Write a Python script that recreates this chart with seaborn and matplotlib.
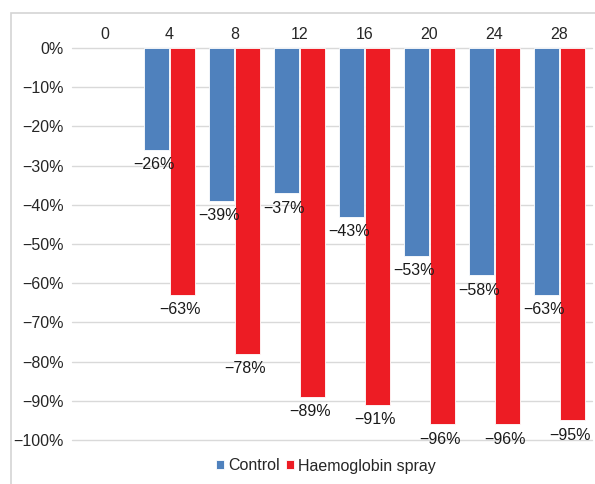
import matplotlib
matplotlib.use("Agg")
import matplotlib.pyplot as plt
from matplotlib.patches import Rectangle
import numpy as np
import pandas as pd
import seaborn as sns

days = ["0", "4", "8", "12", "16", "20", "24", "28"]
control = [np.nan, -26, -39, -37, -43, -53, -58, -63]
spray = [np.nan, -63, -78, -89, -91, -96, -96, -95]
series = ["Control", "Haemoglobin spray"]
colors = ["#4F81BD", "#ED1C24"]
yticks = list(range(0, -101, -10))

sns.set_theme(style="white")
plt.rcParams["font.family"] = ["Liberation Sans", "DejaVu Sans"]

df = pd.DataFrame({
    "day": days * 2,
    "value": control + spray,
    "group": [series[0]] * len(days) + [series[1]] * len(days),
})

fig = plt.figure(figsize=(5.95, 4.84), dpi=100)
ax = fig.add_axes([72 / 595, 1 - 440 / 484, (592 - 72) / 595, (440 - 48) / 484])

sns.barplot(data=df, x="day", y="value", hue="group", order=days,
            hue_order=series, palette=colors, saturation=1, width=0.82, gap=0.06,
            edgecolor="#ffffff", linewidth=0.6, ax=ax, legend=True)

ax.set_ylim(-100, 0)
ax.set_xlim(-0.5, len(days) - 0.5)
ax.set_yticks(yticks)
ax.set_yticklabels([f"\u2212{abs(v)}%" if v else "0%" for v in yticks], fontsize=11.5)
ax.xaxis.tick_top()
ax.tick_params(axis="x", length=0, pad=4, labelsize=11.5)
ax.tick_params(axis="y", length=0, pad=6)
ax.set_xlabel("")
ax.set_ylabel("")
for s in ax.spines.values():
    s.set_visible(False)
ax.yaxis.grid(True, color="#d9d9d9", linewidth=1)
for gl in ax.get_ygridlines():
    gl.set_clip_on(False)
ax.set_axisbelow(True)

for cont in ax.containers:
    for bar in cont:
        h = bar.get_height()
        if np.isnan(h) or h == 0:
            continue
        ax.annotate(f"\u2212{abs(h):.0f}%", (bar.get_x() + bar.get_width() / 2 - 0.04, h),
                    xytext=(0, -15), textcoords="offset pixels",
                    ha="center", va="center", fontsize=11.5, color="#1a1a1a",
                    annotation_clip=False)

leg = ax.legend(loc="center", bbox_to_anchor=(326 / 595, 1 - 466 / 484),
                bbox_transform=fig.transFigure, ncol=2, frameon=False,
                fontsize=11.5, handlelength=0.5, handleheight=0.5,
                handletextpad=0.25, columnspacing=0.4)

fig.patches.append(Rectangle((11 / 595, -0.1), 1.2, 1 - 13 / 484 + 0.1,
                             transform=fig.transFigure, fill=False,
                             edgecolor="#d4d4d4", linewidth=1.2))

fig.savefig("out.png", dpi=100)
